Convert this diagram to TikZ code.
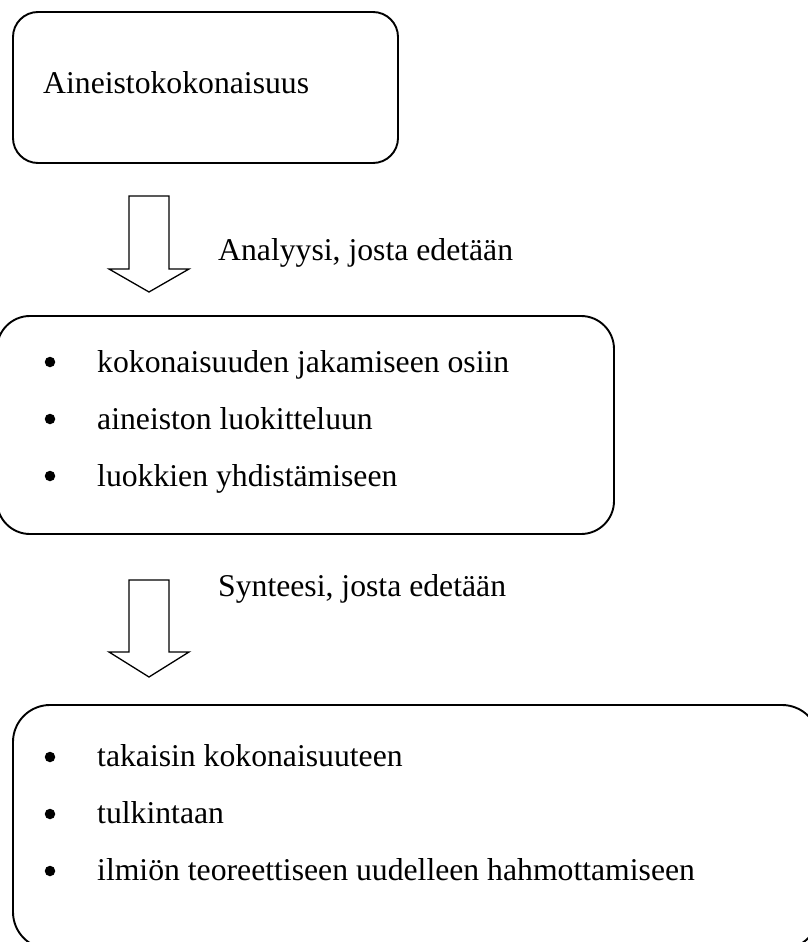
\documentclass[tikz,border=0pt]{standalone}
\usepackage{fontspec}
\setmainfont{Liberation Serif}
\begin{document}
\begin{tikzpicture}[x=1pt,y=-1pt,
  box/.style={draw, line width=1.9pt, rectangle, inner sep=0pt},
  txt/.style={anchor=base west, inner sep=0pt, font=\fontsize{31.7}{38}\selectfont},
  dot/.style={circle, fill=black, inner sep=0pt, minimum size=10.5pt},
  blockarrow/.style={draw, line width=1.3pt, line join=miter}]
\useasboundingbox (0,0) rectangle (808,942);

% top box
\node[box, minimum width=385pt, minimum height=151pt, rounded corners=25pt] (b1) at (205.5,87.5) {};
\node[txt] (t1) at (43,93) {Aineistokokonaisuus};

% first block arrow and its label
\coordinate (a1) at (149,196);
\draw[blockarrow, shift={(a1)}] (-20,0) -- (20,0) -- (20,73) -- (40,73) -- (0,96) -- (-40,73) -- (-20,73) -- cycle;
\node[txt] (l1) at (218,260) {Analyysi, josta edetään};

% middle box
\node[box, minimum width=617pt, minimum height=218pt, rounded corners=33pt] (b2) at (305.5,425) {};
\node[dot] (d21) at (50,362) {};
\node[txt] (t21) at (97,372) {kokonaisuuden jakamiseen osiin};
\node[dot] (d22) at (50,419) {};
\node[txt] (t22) at (97,429) {aineiston luokitteluun};
\node[dot] (d23) at (50,476) {};
\node[txt] (t23) at (97,486) {luokkien yhdistämiseen};

% second block arrow and its label
\coordinate (a2) at (149,580);
\draw[blockarrow, shift={(a2)}] (-20,0) -- (20,0) -- (20,72) -- (40,72) -- (0,97) -- (-40,72) -- (-20,72) -- cycle;
\node[txt] (l2) at (218,596) {Synteesi, josta edetään};

% bottom box
\node[box, minimum width=806pt, minimum height=244pt, rounded corners=37pt] (b3) at (416,827) {};
\node[dot] (d31) at (50,757) {};
\node[txt] (t31) at (97,766) {takaisin kokonaisuuteen};
\node[dot] (d32) at (50,814) {};
\node[txt] (t32) at (97,823) {tulkintaan};
\node[dot] (d33) at (50,871) {};
\node[txt] (t33) at (97,880) {ilmiön teoreettiseen uudelleen hahmottamiseen};
\end{tikzpicture}
\end{document}
